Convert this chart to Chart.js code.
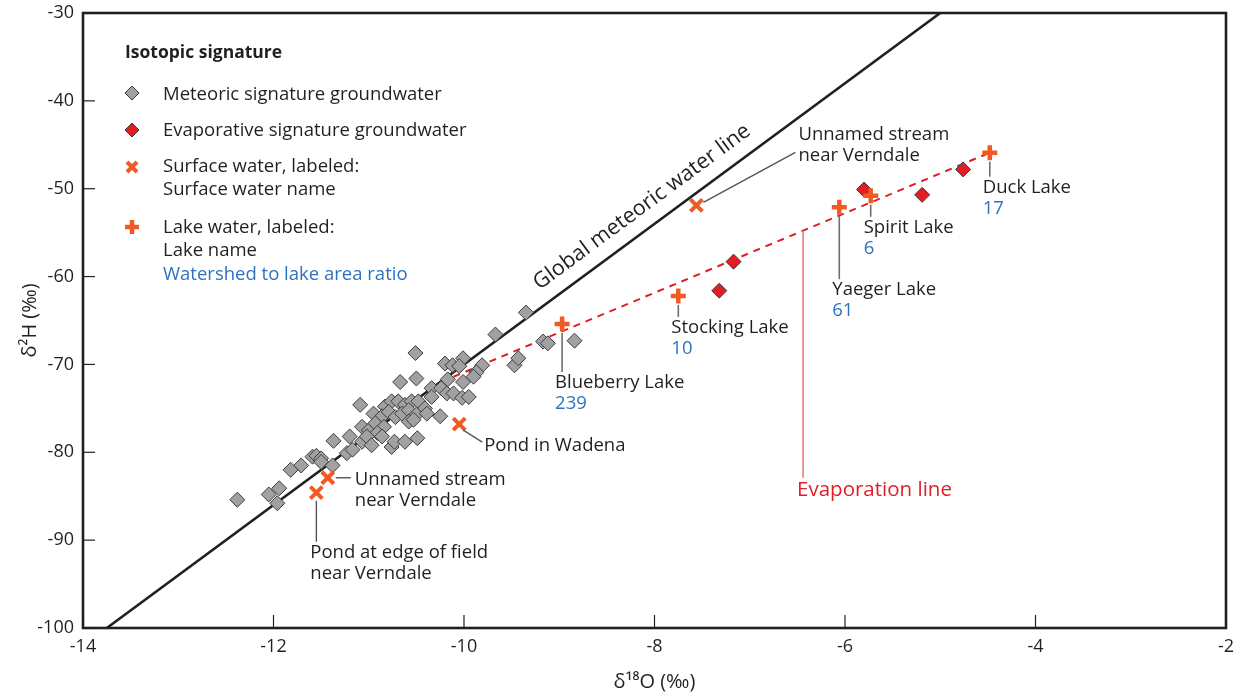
<!DOCTYPE html>
<html>
<head>
<meta charset="utf-8">
<script src="https://cdn.jsdelivr.net/npm/chart.js@4.4.1/dist/chart.umd.min.js"></script>
<style>
  html, body { margin: 0; padding: 0; background: #fff; }
  #wrap { width: 1235px; height: 696px; }
</style>
</head>
<body>
<div id="wrap"><canvas id="isoChart" width="1235" height="696"></canvas></div>
<script>
// DATA  (δ18O, δ2H in per mil)
const meteoricPoints = [
  [-9.67, -66.6], [-10.51, -68.7], [-10.20, -69.9], [-10.12, -70.1], [-10.01, -69.3],
  [-10.05, -70.2], [-9.81, -70.1], [-9.47, -70.1], [-9.43, -69.3], [-9.87, -70.9],
  [-9.90, -71.4], [-10.67, -72.0], [-10.50, -71.6], [-10.01, -72.0], [-10.17, -71.7],
  [-10.34, -72.7], [-10.24, -72.7], [-10.18, -73.3], [-10.11, -73.3], [-10.02, -73.8],
  [-9.95, -73.7], [-11.09, -74.6], [-10.83, -74.8], [-10.76, -74.2], [-10.69, -74.2],
  [-10.62, -74.6], [-10.55, -74.2], [-10.48, -74.2], [-10.41, -75.0], [-10.34, -73.7],
  [-10.95, -75.6], [-10.86, -75.9], [-10.79, -75.4], [-10.72, -76.0], [-10.65, -75.6],
  [-10.58, -75.2], [-10.50, -75.7], [-10.39, -75.6], [-10.25, -75.9], [-10.58, -76.5],
  [-10.53, -76.3], [-11.07, -77.1], [-11.00, -77.5], [-10.93, -76.7], [-10.84, -77.1],
  [-10.91, -77.8], [-10.86, -78.2], [-11.37, -78.7], [-11.20, -78.2], [-11.07, -78.8],
  [-11.02, -78.2], [-10.97, -79.2], [-10.76, -79.4], [-10.73, -78.8], [-10.62, -78.8],
  [-10.49, -78.4], [-11.23, -80.1], [-11.17, -79.7], [-11.59, -80.5], [-11.55, -80.4],
  [-11.50, -80.7], [-11.50, -81.1], [-11.38, -81.5], [-11.71, -81.5], [-11.82, -82.0],
  [-11.94, -84.1], [-12.05, -84.8], [-11.96, -85.8], [-12.38, -85.4], [-9.35, -64.1],
  [-9.17, -67.4], [-9.12, -67.6], [-8.84, -67.3]
];
const evapO = [-7.32, -7.17, -5.80, -5.19, -4.76];
const evapH = [-61.6, -58.3, -50.1, -50.7, -47.8];

const surfaceNames = [["Unnamed stream", "near Verndale"], ["Pond in Wadena"], ["Unnamed stream", "near Verndale"], ["Pond at edge of field", "near Verndale"]];
const surfaceO = [-7.56, -10.05, -11.43, -11.55];
const surfaceH = [-51.9, -76.8, -82.9, -84.6];

const lakeNames = ["Blueberry Lake", "Stocking Lake", "Yaeger Lake", "Spirit Lake", "Duck Lake"];
const lakeRatios = ["239", "10", "61", "6", "17"];
const lakeO = [-8.97, -7.75, -6.06, -5.73, -4.48];
const lakeH = [-65.4, -62.2, -52.1, -50.8, -45.9];

const gmwlO = [-13.75, -5];      // global meteoric water line end points
const gmwlH = [-100, -30];
const evapLineO = [-10.11, -4.48];
const evapLineH = [-71.4, -45.9];

const xTicks = [-14, -12, -10, -8, -6, -4, -2];
const yTicks = [-100, -90, -80, -70, -60, -50, -40, -30];

// STYLE
const INK = "#231f20";
const ORANGE = "#f15a24";
const BLUE = "#2e72c0";
const RED = "#e31d25";
const GRAY = "#a1a1a3";
const FONT = "'Open Sans', 'Noto Sans', sans-serif";

// label layout, pixel offsets from each point
const surfaceLayout = [
  { tx: 102, ty: -71, lead: [7, -3, 99, -53] },
  { tx: 25, ty: 22, lead: [4, 6, 23, 18] },
  { tx: 27, ty: 2, lead: [8, 0, 23, 0] },
  { tx: -6, ty: 60, lead: [0, 8, 0, 49] }
];
const lakeLayout = [59, 32, 83, 32, 35];

function diamond(ctx, cx, cy, r, fill) {
  ctx.beginPath();
  ctx.moveTo(cx, cy - r); ctx.lineTo(cx + r, cy); ctx.lineTo(cx, cy + r); ctx.lineTo(cx - r, cy);
  ctx.closePath();
  ctx.fillStyle = fill; ctx.fill();
  ctx.lineWidth = 1; ctx.strokeStyle = "#3c3c3c"; ctx.stroke();
}
function xMark(ctx, cx, cy, r) {
  ctx.beginPath();
  ctx.moveTo(cx - r, cy - r); ctx.lineTo(cx + r, cy + r);
  ctx.moveTo(cx + r, cy - r); ctx.lineTo(cx - r, cy + r);
  ctx.lineWidth = 4; ctx.strokeStyle = ORANGE; ctx.stroke();
}
function plusMark(ctx, cx, cy, r) {
  ctx.beginPath();
  ctx.moveTo(cx - r, cy); ctx.lineTo(cx + r, cy);
  ctx.moveTo(cx, cy - r); ctx.lineTo(cx, cy + r);
  ctx.lineWidth = 4.5; ctx.strokeStyle = ORANGE; ctx.stroke();
}
function line(ctx, x1, y1, x2, y2, color, w) {
  ctx.beginPath(); ctx.moveTo(x1, y1); ctx.lineTo(x2, y2);
  ctx.lineWidth = w; ctx.strokeStyle = color; ctx.stroke();
}
function text(ctx, str, x, y, color, font) {
  ctx.font = font; ctx.fillStyle = color;
  ctx.textAlign = "left"; ctx.textBaseline = "middle";
  ctx.fillText(str, x, y);
}

const decorPlugin = {
  id: "decor",
  afterDatasetsDraw(chart) {
    const { ctx, chartArea: a, scales: { x, y } } = chart;
    const f = "18.5px " + FONT;
    ctx.save();

    // frame + inward ticks
    ctx.lineWidth = 2.6; ctx.strokeStyle = INK;
    ctx.strokeRect(a.left, a.top, a.right - a.left, a.bottom - a.top);
    xTicks.forEach(v => { const px = x.getPixelForValue(v); line(ctx, px, a.bottom, px, a.bottom - 13, INK, 1.2); });
    yTicks.forEach(v => { const py = y.getPixelForValue(v); line(ctx, a.left, py, a.left + 12, py, INK, 1.2); });

    // GMWL label, rotated along the line
    const p1x = x.getPixelForValue(gmwlO[0]), p1y = y.getPixelForValue(gmwlH[0]);
    const p2x = x.getPixelForValue(gmwlO[1]), p2y = y.getPixelForValue(gmwlH[1]);
    const ang = Math.atan2(p2y - p1y, p2x - p1x);
    const ax = x.getPixelForValue(-8), ay = y.getPixelForValue(-54);
    ctx.save();
    ctx.translate(ax + Math.sin(ang) * 21, ay - Math.cos(ang) * 21);
    ctx.rotate(ang);
    ctx.font = "21.5px " + FONT; ctx.fillStyle = INK;
    ctx.textAlign = "center"; ctx.textBaseline = "middle";
    ctx.fillText("Global meteoric water line", 0, 0);
    ctx.restore();

    // evaporation line label
    const ex = x.getPixelForValue(-6.44);
    const t = (-6.44 - evapLineO[0]) / (evapLineO[1] - evapLineO[0]);
    const ey = y.getPixelForValue(evapLineH[0] + t * (evapLineH[1] - evapLineH[0]));
    line(ctx, ex, ey, ex, ey + 247, "#ea7a80", 1.6);
    text(ctx, "Evaporation line", ex - 6, ey + 259, RED, "20.5px " + FONT);

    // surface water labels
    surfaceNames.forEach((lines, i) => {
      const px = x.getPixelForValue(surfaceO[i]), py = y.getPixelForValue(surfaceH[i]);
      const L = surfaceLayout[i];
      line(ctx, px + L.lead[0], py + L.lead[1], px + L.lead[2], py + L.lead[3], "#555", 1.4);
      lines.forEach((s, k) => text(ctx, s, px + L.tx, py + L.ty + k * 21, INK, f));
    });

    // lake labels
    lakeNames.forEach((name, i) => {
      const px = x.getPixelForValue(lakeO[i]), py = y.getPixelForValue(lakeH[i]);
      const dy = lakeLayout[i];
      line(ctx, px, py + 9, px, py + dy - 11, "#6d6e71", 1.6);
      text(ctx, name, px - 7, py + dy, INK, f);
      text(ctx, lakeRatios[i], px - 7, py + dy + 21, BLUE, f);
    });

    // legend
    const lx = a.left, ly = a.top;
    text(ctx, "Isotopic signature", lx + 42, ly + 40, INK, "bold 17.5px " + FONT);
    diamond(ctx, lx + 49, ly + 80, 7, GRAY);
    text(ctx, "Meteoric signature groundwater", lx + 80, ly + 82, INK, f);
    diamond(ctx, lx + 49, ly + 117, 7, RED);
    text(ctx, "Evaporative signature groundwater", lx + 80, ly + 118, INK, f);
    xMark(ctx, lx + 49, ly + 154, 5);
    text(ctx, "Surface water, labeled:", lx + 80, ly + 154, INK, f);
    text(ctx, "Surface water name", lx + 80, ly + 177, INK, f);
    plusMark(ctx, lx + 49, ly + 214, 7);
    text(ctx, "Lake water, labeled:", lx + 80, ly + 215, INK, f);
    text(ctx, "Lake name", lx + 80, ly + 238, INK, f);
    text(ctx, "Watershed to lake area ratio", lx + 80, ly + 262, BLUE, f);

    ctx.restore();
  }
};

const pts = (xs, ys) => xs.map((v, i) => ({ x: v, y: ys[i] }));

new Chart(document.getElementById("isoChart").getContext("2d"), {
  type: "scatter",
  data: {
    datasets: [
      { type: "line", data: pts(gmwlO, gmwlH), borderColor: INK, borderWidth: 2.6, pointRadius: 0, order: 10 },
      { type: "line", data: pts(evapLineO, evapLineH), borderColor: RED, borderWidth: 2, borderDash: [7, 6], pointRadius: 0, order: 9 },
      { data: meteoricPoints.map(p => ({ x: p[0], y: p[1] })), pointStyle: "rectRot", pointRadius: 7.5,
        backgroundColor: GRAY, borderColor: "#3c3c3c", borderWidth: 1, order: 4 },
      { data: pts(evapO, evapH), pointStyle: "rectRot", pointRadius: 7.5,
        backgroundColor: RED, borderColor: "#3c3c3c", borderWidth: 1, order: 3 },
      { data: pts(surfaceO, surfaceH), pointStyle: "crossRot", pointRadius: 8.5,
        borderColor: ORANGE, borderWidth: 4, order: 2 },
      { data: pts(lakeO, lakeH), pointStyle: "cross", pointRadius: 7.5,
        borderColor: ORANGE, borderWidth: 4.5, order: 1 }
    ]
  },
  options: {
    responsive: false,
    animation: false,
    events: [],
    layout: { autoPadding: false, padding: { top: 13, right: 9, left: 0, bottom: 0 } },
    scales: {
      x: {
        type: "linear", min: -14, max: -2,
        afterBuildTicks: s => { s.ticks = xTicks.map(v => ({ value: v })); },
        afterFit: s => { s.height = 68; s.paddingLeft = 0; s.paddingRight = 0; },
        grid: { display: false, drawTicks: false },
        border: { display: false },
        ticks: { color: INK, font: { family: FONT, size: 18 }, padding: 8, maxRotation: 0 },
        title: { display: true, text: "δ¹⁸O (‰)", color: INK, font: { family: FONT, size: 20 }, padding: { top: 0, bottom: 2 } }
      },
      y: {
        type: "linear", min: -100, max: -30,
        afterBuildTicks: s => { s.ticks = yTicks.map(v => ({ value: v })); },
        afterFit: s => { s.width = 83; s.paddingTop = 0; s.paddingBottom = 0; },
        grid: { display: false, drawTicks: false },
        border: { display: false },
        ticks: { color: INK, font: { family: FONT, size: 18 }, padding: 9 },
        title: { display: true, text: "δ²H (‰)", color: INK, font: { family: FONT, size: 20 }, padding: { top: 18, bottom: 0 } }
      }
    },
    plugins: { legend: { display: false }, tooltip: { enabled: false } }
  },
  plugins: [decorPlugin]
});
</script>
</body>
</html>
